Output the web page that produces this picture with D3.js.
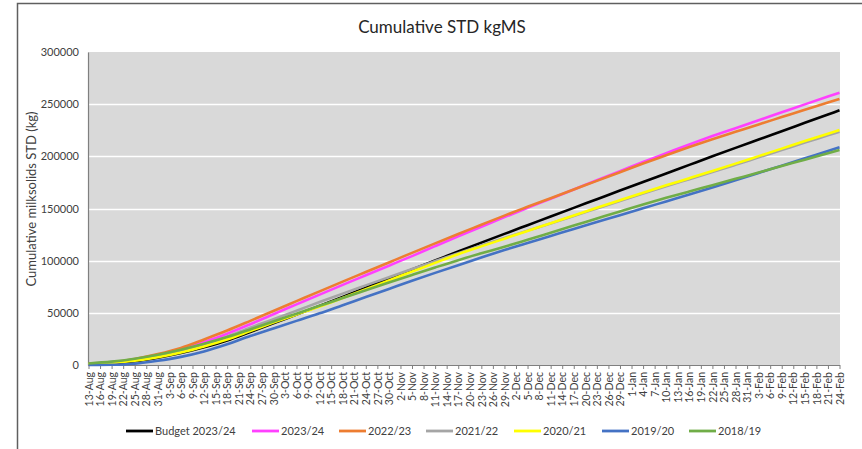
<!DOCTYPE html>
<html><head><meta charset="utf-8">
<script src="https://cdn.jsdelivr.net/npm/d3@7"></script>
<style>body{margin:0;background:#fff} svg{display:block}</style>
</head><body><svg id="c" width="862" height="449"></svg>
<script>
const title = "Cumulative STD kgMS";
const yTitle = "Cumulative milksolids STD (kg)";
const tickLabels = ["13-Aug","16-Aug","19-Aug","22-Aug","25-Aug","28-Aug","31-Aug","3-Sep","6-Sep","9-Sep","12-Sep","15-Sep","18-Sep","21-Sep","24-Sep","27-Sep","30-Sep","3-Oct","6-Oct","9-Oct","12-Oct","15-Oct","18-Oct","21-Oct","24-Oct","27-Oct","30-Oct","2-Nov","5-Nov","8-Nov","11-Nov","14-Nov","17-Nov","20-Nov","23-Nov","26-Nov","29-Nov","2-Dec","5-Dec","8-Dec","11-Dec","14-Dec","17-Dec","20-Dec","23-Dec","26-Dec","29-Dec","1-Jan","4-Jan","7-Jan","10-Jan","13-Jan","16-Jan","19-Jan","22-Jan","25-Jan","28-Jan","31-Jan","3-Feb","6-Feb","9-Feb","12-Feb","15-Feb","18-Feb","21-Feb","24-Feb"];
// day index (0 = 13-Aug) of each data point
const dayIndex = [0,6,12,18,24,30,36,42,48,54,60,66,72,78,84,90,96,102,108,114,120,126,132,138,144,150,156,162,168,174,180,186,192,195];
const yTicks = [0,50000,100000,150000,200000,250000,300000];

const budget2324 = [800,1800,3600,7000,11500,17000,23500,31600,39900,48300,56700,65300,74000,82800,91600,100200,108800,117300,125700,134000,142300,150600,158900,167200,175400,183600,191800,200000,208100,216100,224100,232100,240100,244100];
const s2324 = [700,2100,5100,9300,14600,22000,30000,39100,48700,58100,67500,76800,86000,95200,104400,113900,123300,132500,141700,150600,159400,168200,177000,185800,194600,203000,211400,219400,227000,234600,242200,249800,257300,261000];
const s2223 = [1000,2500,5800,10500,16400,24500,33000,42300,51800,61200,70600,79900,89100,98300,107500,116600,125600,134400,143200,151600,159900,168200,176500,184800,193100,201000,208900,216400,223500,230600,237600,244600,251500,255000];
const s2122 = [1200,2800,5300,9000,14000,20200,27200,35800,43800,52000,60300,68400,76300,84200,92000,99600,107200,114600,121800,128800,135700,142800,150000,157200,164300,171300,178100,184900,191900,199000,206100,213200,220100,223600];
const s2021 = [900,2000,4000,7400,12000,17800,24500,32500,40600,48400,56100,64300,72700,81100,89500,97900,106200,113700,121100,128500,135900,143300,150700,158000,165200,172200,179000,185900,193000,200200,207400,214600,221600,225200];
const s1920 = [0,200,1200,4000,7800,13000,19800,27700,35000,42300,49500,57300,65100,72900,80700,88300,95700,103000,110200,117000,123700,130400,137000,143600,150200,156800,163400,170100,177100,184100,191100,198100,205200,208700];
const s1819 = [1500,3200,6000,9800,14600,20300,26800,34100,41700,49200,56700,64200,71600,79000,86300,93500,100500,107000,113300,120000,126800,133600,140400,147200,153900,160200,166300,172300,178400,184500,190700,196800,203000,206000];

const seriesNames = ["Budget 2023/24","2023/24","2022/23","2021/22","2020/21","2019/20","2018/19"];
const seriesColors = ["#000000","#ff40ff","#ed7d31","#a5a5a5","#ffff00","#4472c4","#70ad47"];
const seriesValues = [budget2324,s2324,s2223,s2122,s2021,s1920,s1819];

const FONT = "Lato, 'Open Sans', sans-serif";
const svg = d3.select("#c");
const W = 862, H = 449;
const plot = {left:88, right:840, top:52, bottom:365};

// outer frame
svg.append("rect").attr("x",17.5).attr("y",3.5).attr("width",W+20).attr("height",H+20)
  .attr("fill","#fff").attr("stroke","#5f5f5f").attr("stroke-width",1.5);

const x = d3.scaleLinear().domain([0,195]).range([plot.left+0.5, plot.right-0.5]);
const y = d3.scaleLinear().domain([0,300000]).range([plot.bottom, plot.top]);

svg.append("rect").attr("x",plot.left).attr("y",plot.top)
  .attr("width",plot.right-plot.left).attr("height",plot.bottom-plot.top).attr("fill","#d9d9d9");

// gridlines
svg.append("g").selectAll("line").data(yTicks.filter(d=>d>0 && d<300000)).join("line")
  .attr("x1",plot.left).attr("x2",plot.right)
  .attr("y1",d=>Math.round(y(d))+0.5).attr("y2",d=>Math.round(y(d))+0.5)
  .attr("stroke","#ffffff").attr("stroke-width",1.3);

// y axis
const yAxis = svg.append("g").attr("transform",`translate(${plot.left},0)`)
  .call(d3.axisLeft(y).tickValues(yTicks).tickFormat(d3.format("d")).tickSize(0).tickPadding(9));
yAxis.select(".domain").attr("stroke","#7f7f7f").attr("stroke-width",1.2);
yAxis.selectAll("text").attr("font-family",FONT).attr("font-size",11).attr("fill","#404040");

// x axis
const xAxis = svg.append("g").attr("transform",`translate(0,${plot.bottom})`)
  .call(d3.axisBottom(x).tickValues(tickLabels.map((d,i)=>i*3))
    .tickFormat((d,i)=>tickLabels[i]).tickSize(4).tickSizeOuter(0));
xAxis.select(".domain").attr("stroke","#7f7f7f").attr("stroke-width",1.2);
xAxis.selectAll(".tick line").attr("stroke","#7f7f7f");
xAxis.selectAll("text").attr("font-family",FONT).attr("font-size",10.5).attr("fill","#404040")
  .attr("transform","rotate(-90)").attr("text-anchor","end")
  .attr("x",-7).attr("y",0).attr("dy","0.35em");

// lines
const line = d3.line().x((d,i)=>x(dayIndex[i])).y(d=>y(d)).curve(d3.curveMonotoneX);
svg.append("g").selectAll("path").data(seriesValues).join("path")
  .attr("d",d=>line(d)).attr("fill","none")
  .attr("stroke",(d,i)=>seriesColors[i]).attr("stroke-width",2.6)
  .attr("stroke-linejoin","round");

// title
svg.append("text").attr("x",442).attr("y",33).attr("text-anchor","middle")
  .attr("font-family",FONT).attr("font-size",17).attr("fill","#262626").text(title);

svg.append("text").attr("transform","translate(36,199) rotate(-90)").attr("text-anchor","middle")
  .attr("font-family",FONT).attr("font-size",13).attr("fill","#404040").text(yTitle);

// legend
const legX = [126,252,339,426,514,602,689];
const leg = svg.append("g").selectAll("g").data(seriesNames).join("g")
  .attr("transform",(d,i)=>`translate(${legX[i]},431)`);
leg.append("line").attr("x1",0).attr("x2",27).attr("y1",0).attr("y2",0)
  .attr("stroke",(d,i)=>seriesColors[i]).attr("stroke-width",2.8);
leg.append("text").attr("x",29).attr("y",0).attr("dy","0.35em")
  .attr("font-family",FONT).attr("font-size",11).attr("fill","#404040").text(d=>d);
</script>
</body></html>
